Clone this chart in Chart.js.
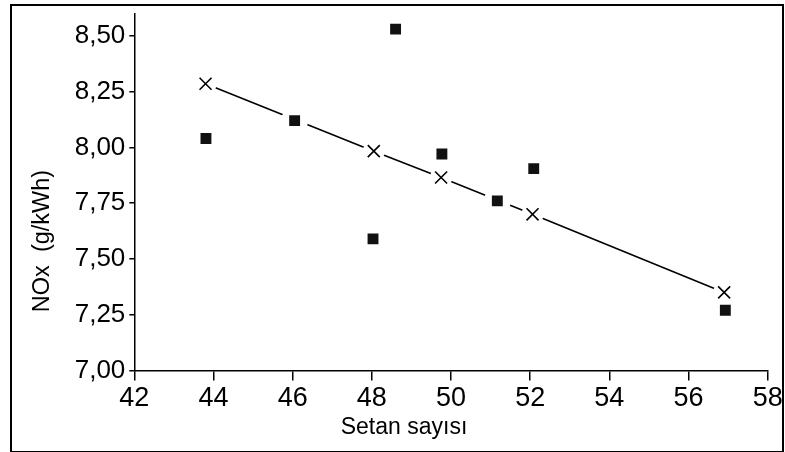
<!DOCTYPE html>
<html>
<head>
<meta charset="utf-8">
<script src="https://cdn.jsdelivr.net/npm/chart.js@4/dist/chart.umd.min.js"></script>
<style>
  html, body { margin: 0; padding: 0; background: #fff; }
  #wrap { position: relative; width: 785px; height: 452px; }
  #frame { position: absolute; left: 10px; top: 4px; width: 770px; height: 445px; border: 2px solid #000; pointer-events: none; }
  canvas { position: absolute; left: 0; top: 0; }
</style>
</head>
<body>
<div id="wrap">
  <canvas id="c" width="785" height="452"></canvas>
  <div id="frame"></div>
</div>
<script>
// ---- data ----
const squareX = [43.81, 46.05, 48.03, 48.60, 49.77, 51.17, 52.09, 56.93];
const squareY = [8.04, 8.12, 7.59, 8.53, 7.97, 7.76, 7.905, 7.27];
const lineX = [43.80, 48.05, 49.75, 52.06, 56.90];
const lineY = [8.285, 7.983, 7.865, 7.70, 7.35];
const xTicks = [42, 44, 46, 48, 50, 52, 54, 56, 58];
const yTicks = [7.00, 7.25, 7.50, 7.75, 8.00, 8.25, 8.50];
const yTickLabels = ['7,00', '7,25', '7,50', '7,75', '8,00', '8,25', '8,50'];
const xTitle = 'Setan sayısı';
const yTitle = 'NOx  (g/kWh)';

const toPts = (xs, ys) => xs.map((x, i) => ({ x: x, y: ys[i] }));
const FONT = '"Liberation Sans", Arial, sans-serif';

const titlePlugin = {
  id: 'axisTitles',
  afterDraw(chart) {
    const ctx = chart.ctx;
    ctx.save();
    ctx.fillStyle = '#000';
    ctx.font = '23px ' + FONT;
    ctx.textAlign = 'center';
    ctx.textBaseline = 'alphabetic';
    ctx.fillText(xTitle, 404, 434);
    ctx.translate(49, 241);
    ctx.rotate(-Math.PI / 2);
    ctx.font = '23.5px ' + FONT;
    ctx.fillText(yTitle, 0, 0);
    ctx.restore();
  }
};

new Chart(document.getElementById('c'), {
  type: 'scatter',
  data: {
    datasets: [
      { // x markers
        data: toPts(lineX, lineY),
        showLine: false,
        pointStyle: 'crossRot',
        pointRadius: 8.5,
        pointBorderColor: '#000',
        pointBorderWidth: 1.6,
        pointBackgroundColor: '#000',
        order: 1
      },
      { // squares
        data: toPts(squareX, squareY),
        showLine: false,
        pointStyle: 'rect',
        pointRadius: 7.7,
        pointBackgroundColor: '#111',
        pointBorderColor: '#111',
        pointBorderWidth: 0,
        order: 1
      },
      { // white halo around x markers
        data: toPts(lineX, lineY),
        showLine: false,
        pointStyle: 'circle',
        pointRadius: 11,
        pointBackgroundColor: '#fff',
        pointBorderWidth: 0,
        order: 2
      },
      { // white halo around squares
        data: toPts(squareX, squareY),
        showLine: false,
        pointStyle: 'circle',
        pointRadius: 13.5,
        pointBackgroundColor: '#fff',
        pointBorderWidth: 0,
        order: 2
      },
      { // connecting line
        data: toPts(lineX, lineY),
        showLine: true,
        borderColor: '#000',
        borderWidth: 1.6,
        pointRadius: 0,
        fill: false,
        tension: 0,
        order: 3
      }
    ]
  },
  options: {
    responsive: false,
    animation: false,
    devicePixelRatio: 1,
    layout: { padding: { left: 0, top: 9.7, right: 17.3, bottom: 0 } },
    plugins: { legend: { display: false }, tooltip: { enabled: false } },
    scales: {
      x: {
        type: 'linear',
        min: 42, max: 58,
        afterBuildTicks: (s) => { s.ticks = xTicks.map(v => ({ value: v })); },
        afterFit: (s) => { s.height = 452 - 370.5; s.paddingLeft = 0; s.paddingRight = 0; },
        grid: { drawOnChartArea: false, drawTicks: true, tickLength: 10, color: '#000', lineWidth: 1.5 },
        border: { display: true, color: '#000', width: 1.5 },
        ticks: { color: '#000', font: { family: FONT, size: 27 }, padding: 2, maxRotation: 0, autoSkip: false,
                 callback: (v) => String(v) }
      },
      y: {
        type: 'linear',
        min: 7.0, max: 8.6,
        afterBuildTicks: (s) => { s.ticks = yTicks.map(v => ({ value: v })); },
        afterFit: (s) => { s.width = 134.3; s.paddingTop = 0; s.paddingBottom = 0; },
        grid: { drawOnChartArea: false, drawTicks: true, tickLength: 5, color: '#000', lineWidth: 1.5 },
        border: { display: true, color: '#000', width: 1.5 },
        ticks: { color: '#000', font: { family: FONT, size: 26 }, padding: 4, autoSkip: false,
                 callback: (v) => { const i = yTicks.indexOf(v); return i >= 0 ? yTickLabels[i] : ''; } }
      }
    }
  },
  plugins: [titlePlugin]
});
</script>
</body>
</html>
